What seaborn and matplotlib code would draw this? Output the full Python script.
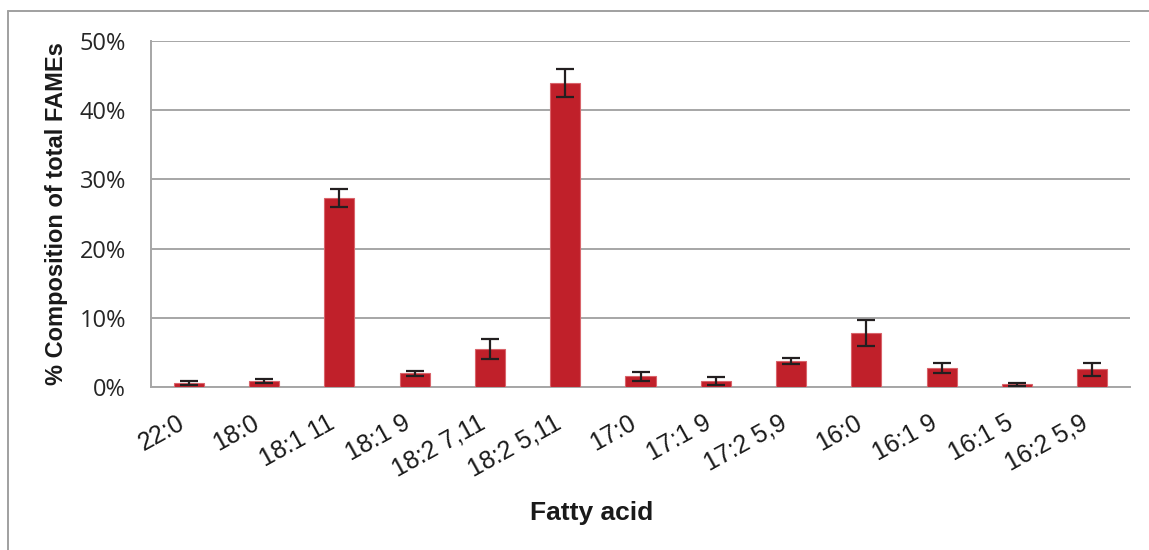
import matplotlib
matplotlib.use("Agg")
import matplotlib.pyplot as plt
import matplotlib.transforms as mtransforms
import seaborn as sns
import pandas as pd
import numpy as np
from matplotlib.lines import Line2D
from matplotlib.ticker import FuncFormatter, FixedLocator

fatty_acids = ["22:0", "18:0", "18:1 11", "18:1 9", "18:2 7,11", "18:2 5,11",
               "17:0", "17:1 9", "17:2 5,9", "16:0", "16:1 9", "16:1 5", "16:2 5,9"]
composition = [0.6, 0.9, 27.3, 2.0, 5.5, 43.9, 1.6, 0.9, 3.8, 7.8, 2.8, 0.45, 2.6]
std_error = [0.3, 0.35, 1.3, 0.4, 1.4, 2.0, 0.65, 0.62, 0.4, 1.9, 0.72, 0.2, 0.96]
y_ticks = [0, 10, 20, 30, 40, 50]

sns.set_style("white")
plt.rcParams['font.family'] = ['Liberation Sans', 'DejaVu Sans']

W, H = 1149, 550
fig = plt.figure(figsize=(W / 100, H / 100), dpi=100)
ax = fig.add_axes([151 / W, 1 - 387.3 / H, (1130 - 151) / W, (387.3 - 40.8) / H])

df = pd.DataFrame({"acid": fatty_acids, "pct": composition})
bar_color = "#C0202A"
sns.barplot(data=df, x="acid", y="pct", color=bar_color, saturation=1, width=0.4,
            edgecolor="#D9646B", linewidth=0.8, ax=ax, zorder=3)
ax.errorbar(np.arange(len(fatty_acids)), composition, yerr=std_error, fmt="none",
            ecolor="#231F20", elinewidth=1.6, capsize=6.3, capthick=1.6, zorder=4)

grid_c = "#A6A6A6"
ax.set_ylim(0, 50)
ax.set_xlim(-0.5, len(fatty_acids) - 0.5)
ax.yaxis.set_major_locator(FixedLocator(y_ticks))
ax.yaxis.set_major_formatter(FuncFormatter(lambda v, p: f"{int(v)}%"))
ax.grid(axis="y", color=grid_c, linewidth=1.4, zorder=0)
ax.grid(axis="x", visible=False)
for s in ["top", "right"]:
    ax.spines[s].set_visible(False)
for s in ["left", "bottom"]:
    ax.spines[s].set_color(grid_c)
    ax.spines[s].set_linewidth(1.4)

ax.tick_params(axis="y", which="major", direction="out", length=6, width=1.4,
               color=grid_c, pad=12, labelsize=17, labelcolor="#262626")
for lab in ax.get_yticklabels():
    lab.set_fontfamily(["Open Sans", "DejaVu Sans"])

ax.set_xticks(np.arange(len(fatty_acids)))
ax.set_xticks(np.arange(-0.5, len(fatty_acids)), minor=True)
ax.tick_params(axis="x", which="major", length=0, pad=17)
ax.tick_params(axis="x", which="minor", direction="out", length=6, width=1.4,
               color=grid_c)
ax.set_xticklabels(fatty_acids, rotation=29, ha="right", va="top",
                   rotation_mode="anchor", fontsize=18, color="#1a1a1a")
shift = mtransforms.ScaledTranslation(-12 / 100, 0, fig.dpi_scale_trans)
for tick in ax.xaxis.get_major_ticks():
    tick.label1.set_transform(tick.label1.get_transform() + shift)
ax.set_xlabel("")
ax.set_ylabel("% Composition of total FAMEs", fontsize=17, fontweight="bold",
              color="#1a1a1a")
ax.yaxis.set_label_coords((68 - 151) / (1130 - 151), 0.5)

fig.text(592 / W, 1 - 513 / H, "Fatty acid", fontsize=19, fontweight="bold",
         ha="center", va="center", color="#1a1a1a")

frame_c = "#A0A0A0"
fig.add_artist(Line2D([8 / W, 1.0], [1 - 11 / H, 1 - 11 / H], transform=fig.transFigure,
                      color=frame_c, linewidth=1.4))
fig.add_artist(Line2D([8 / W, 8 / W], [0, 1 - 11 / H], transform=fig.transFigure,
                      color=frame_c, linewidth=1.4))

fig.savefig("out.png", dpi=100, facecolor="white")
